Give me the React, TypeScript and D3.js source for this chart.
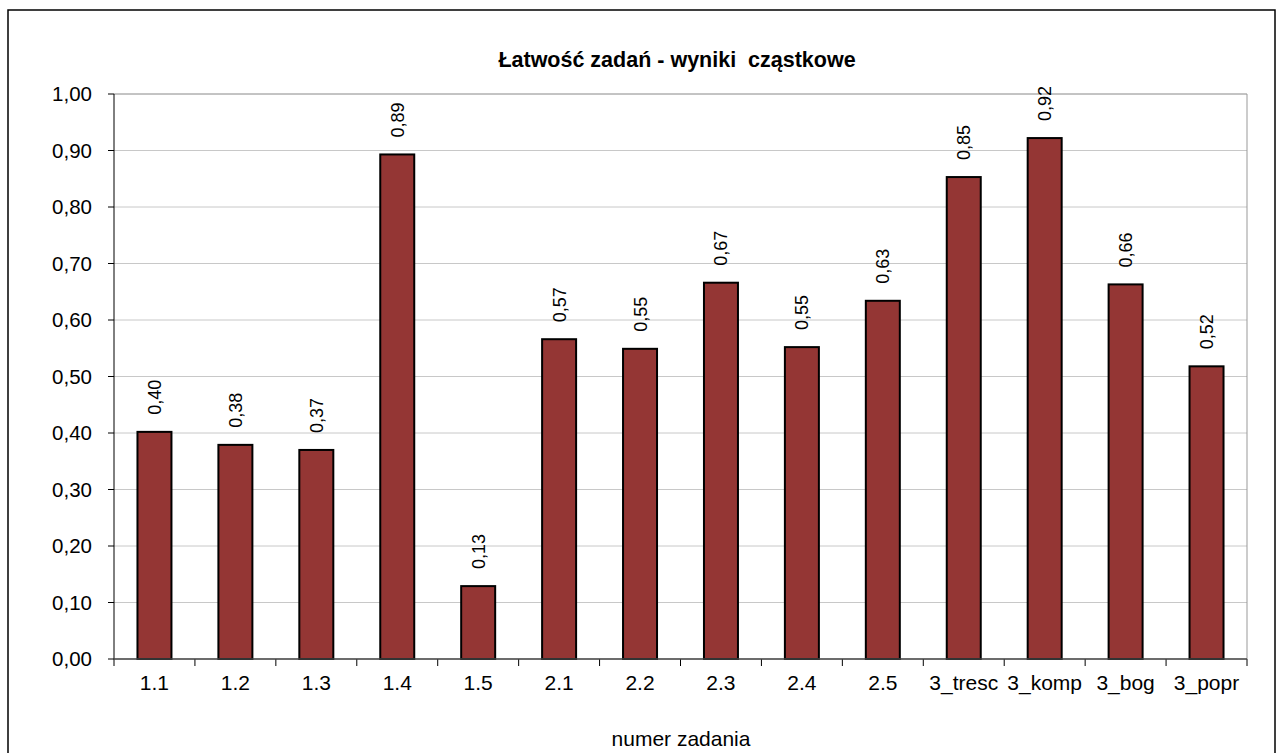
import React from "react";
import * as d3 from "d3";

const categories = ["1.1", "1.2", "1.3", "1.4", "1.5", "2.1", "2.2", "2.3", "2.4", "2.5", "3_tresc", "3_komp", "3_bog", "3_popr"];
const values = [0.402, 0.379, 0.37, 0.893, 0.129, 0.566, 0.549, 0.666, 0.552, 0.634, 0.853, 0.922, 0.663, 0.518];
const yTicks = [0, 0.1, 0.2, 0.3, 0.4, 0.5, 0.6, 0.7, 0.8, 0.9, 1.0];
const title = "Łatwość zadań - wyniki  cząstkowe";
const xTitle = "numer zadania";

const W = 1279;
const H = 753;
const left = 114;
const right = 1247;
const top = 94;
const bottom = 659;

export default function App() {
  const x = d3.scaleBand<string>().domain(categories).range([left, right]).paddingInner(0).paddingOuter(0);
  const y = d3.scaleLinear().domain([0, 1]).range([bottom, top]);
  const bw = x.bandwidth() * 0.42;
  const fmt = (v: number) => v.toFixed(2).replace(".", ",");
  const font = "Arial, 'Liberation Sans', sans-serif";
  return (
    <svg width={W} height={H} style={{ position: "absolute", left: 0, top: 0, display: "block" }}>
      <rect x={0} y={0} width={W} height={H} fill="#fff" />
      <rect x={8} y={10} width={1267} height={760} fill="#fff" stroke="#000" strokeWidth={1.5} />
      <text x={677} y={67} textAnchor="middle" fontFamily={font} fontSize={21.5} fontWeight="bold" fill="#000" style={{ whiteSpace: "pre" }}>{title}</text>
      {yTicks.map((t) => (
        <g key={t}>
          <line x1={left} x2={right} y1={y(t)} y2={y(t)} stroke={t === 1 ? "#888" : "#c8c8c8"} strokeWidth={1} />
          <line x1={left - 6} x2={left} y1={y(t)} y2={y(t)} stroke="#000" strokeWidth={1} />
          <text x={92} y={y(t) + 7} textAnchor="end" fontFamily={font} fontSize={20.5} fill="#000">{fmt(t)}</text>
        </g>
      ))}
      <line x1={right} x2={right} y1={top} y2={bottom} stroke="#999" strokeWidth={1} />
      {categories.map((c, i) => {
        const cx = (x(c) as number) + x.bandwidth() / 2;
        const v = values[i];
        const yt = y(v);
        return (
          <g key={c}>
            <rect x={cx - bw / 2} y={yt} width={bw} height={bottom - yt} fill="#943634" stroke="#000" strokeWidth={2} />
            <text transform={`translate(${cx + 6.5},${yt - 17}) rotate(-90)`} textAnchor="start" fontFamily={font} fontSize={18} fill="#000">{fmt(v)}</text>
            <text x={cx} y={bottom + 31} textAnchor="middle" fontFamily={font} fontSize={21} fill="#000">{c}</text>
          </g>
        );
      })}
      {d3.range(categories.length + 1).map((i) => {
        const xx = left + i * x.step();
        return <line key={i} x1={xx} x2={xx} y1={bottom} y2={bottom + 7} stroke="#000" strokeWidth={1} />;
      })}
      <line x1={left} x2={left} y1={top} y2={bottom} stroke="#000" strokeWidth={1} />
      <line x1={left} x2={right} y1={bottom} y2={bottom} stroke="#444" strokeWidth={1.5} />
      <text x={681} y={746} textAnchor="middle" fontFamily={font} fontSize={21} fill="#000">{xTitle}</text>
    </svg>
  );
}
